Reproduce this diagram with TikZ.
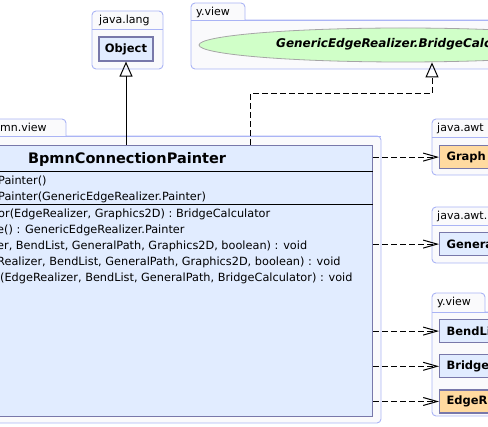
\documentclass[tikz,border=0pt]{standalone}
\usepackage{fontspec}
\setmainfont{DejaVu Sans}
\usetikzlibrary{positioning,arrows.meta,shapes.geometric}

\definecolor{pkgline}{RGB}{170,180,245}
\definecolor{pkgfill}{RGB}{250,250,252}
\definecolor{clsfill}{RGB}{225,236,255}
\definecolor{clsline}{RGB}{120,120,170}
\definecolor{extfill}{RGB}{255,218,160}
\definecolor{ifcfill}{RGB}{208,255,200}

\begin{document}
\begin{tikzpicture}[
  x=1pt, y=-1pt,
  node distance=11pt,
  pkg/.style={draw=pkgline, fill=pkgfill, line width=0.9pt, rounded corners=4pt},
  pkgsep/.style={draw=pkgline, line width=0.9pt},
  pkglbl/.style={anchor=base west, inner sep=0pt, font=\fontsize{11}{13}\selectfont},
  cbody/.style={draw=clsline, fill=clsfill, line width=1.2pt, inner sep=0pt},
  cls/.style={cbody, font=\fontsize{11.5}{14}\selectfont\bfseries, minimum height=23pt},
  usebox/.style={cls, anchor=north west, text width=60pt, inner xsep=7pt, align=left},
  mbr/.style={anchor=base west, inner sep=0pt, font=\fontsize{11.3}{13}\selectfont},
  gen/.style={-{Triangle[open, length=15pt, width=13pt]}, line width=1pt},
  realize/.style={gen, dash pattern=on 6pt off 3pt},
  dep/.style={-{Straight Barb[length=14pt, width=8pt]}, line width=1pt, dash pattern=on 6pt off 3pt}
]
\useasboundingbox (0,0) rectangle (488,427);
\clip (0,0) rectangle (488,427);

% packages
\draw[pkg] (92,11) rectangle (163,69);
\draw[pkgsep] (92,29) -- (163,29);
\node[pkglbl] (langlbl) at (99,24) {java.lang};

\draw[pkg] (245,20) -- (245,3) -- (191,3) -- (191,69) -- (520,69) -- (520,20) -- (245,20);
\draw[pkgsep] (191,20) -- (520,20);
\node[pkglbl] (viewlbl) at (196,16) {y.view};

\draw[pkg] (66,136) -- (66,119) -- (-20,119) -- (-20,423) -- (381,423) -- (381,136) -- (66,136);
\draw[pkgsep] (-20,136) -- (381,136);
\node[pkglbl] (bpmnlbl) at (0,132) {mn.view};

\draw[pkg] (432,119) rectangle (520,175);
\draw[pkgsep] (432,137) -- (520,137);
\node[pkglbl] (awtlbl) at (437,132) {java.awt};

\draw[pkg] (432,207) rectangle (520,263);
\draw[pkgsep] (432,225) -- (520,225);
\node[pkglbl] (geomlbl) at (437,220) {java.awt.};

\draw[pkg] (485,312) -- (485,293) -- (432,293) -- (432,416) -- (520,416) -- (520,312) -- (485,312);
\draw[pkgsep] (432,312) -- (520,312);
\node[pkglbl] (view2lbl) at (437,306) {y.view};

% classes
\node[cls, minimum width=54pt, minimum height=24pt] (object) at (126,49) {Object};
\node[ellipse, draw=gray!70, fill=ifcfill, line width=0.8pt, minimum width=408pt,
      minimum height=34pt, inner sep=0pt] (bridgecalc) at (403,45) {};
\node[anchor=base west, inner sep=0pt, font=\fontsize{12}{14}\selectfont\bfseries\itshape]
      (bcname) at (276,48) {GenericEdgeRealizer.BridgeCalc};

\node[cbody, minimum width=400pt, minimum height=271pt, anchor=north east] (painter) at (373,145) {};
\node[anchor=base, inner sep=0pt, font=\fontsize{14.5}{16}\selectfont\bfseries] (title) at (127,164) {BpmnConnectionPainter};
\draw[line width=0.9pt] (painter.west |- 0,171) -- (painter.east |- 0,171);
\draw[line width=0.9pt] (painter.west |- 0,204) -- (painter.east |- 0,204);

\node[mbr] (ctor1) at (-2,185) {Painter()};
\node[mbr] (ctor2) at (-2,201) {Painter(GenericEdgeRealizer.Painter)};
\node[mbr] (meth1) at (-2,217.5) {or(EdgeRealizer, Graphics2D) : BridgeCalculator};
\node[mbr] (meth2) at (-3,233.5) {e() : GenericEdgeRealizer.Painter};
\node[mbr] (meth3) at (-3,250) {er, BendList, GeneralPath, Graphics2D, boolean) : void};
\node[mbr] (meth4) at (-3,266) {Realizer, BendList, GeneralPath, Graphics2D, boolean) : void};
\node[mbr] (meth5) at (0,282) {(EdgeRealizer, BendList, GeneralPath, BridgeCalculator) : void};

\node[usebox, fill=extfill] (graphics) at (439,145) {Graph};
\node[usebox] (genpath) at (439,232) {Genera};
\node[usebox] (bendlist) at (439,319) {BendLi};
\node[usebox, below=of bendlist] (bridge) {Bridge};
\node[usebox, fill=extfill, below=of bridge] (edgereal) {EdgeR};

% relations
\draw[gen] (painter.north -| object) -- (object);
\coordinate (rbend) at (250,94);
\draw[realize] (painter.north -| rbend) -- (rbend) -| ([xshift=29pt]bridgecalc.south);
\draw[dep] (painter.east |- graphics) -- (graphics);
\draw[dep] (painter.east |- genpath) -- (genpath);
\draw[dep] (painter.east |- bendlist) -- (bendlist);
\draw[dep] (painter.east |- bridge) -- (bridge);
\draw[dep] (painter.east |- edgereal) -- (edgereal);
\end{tikzpicture}
\end{document}
